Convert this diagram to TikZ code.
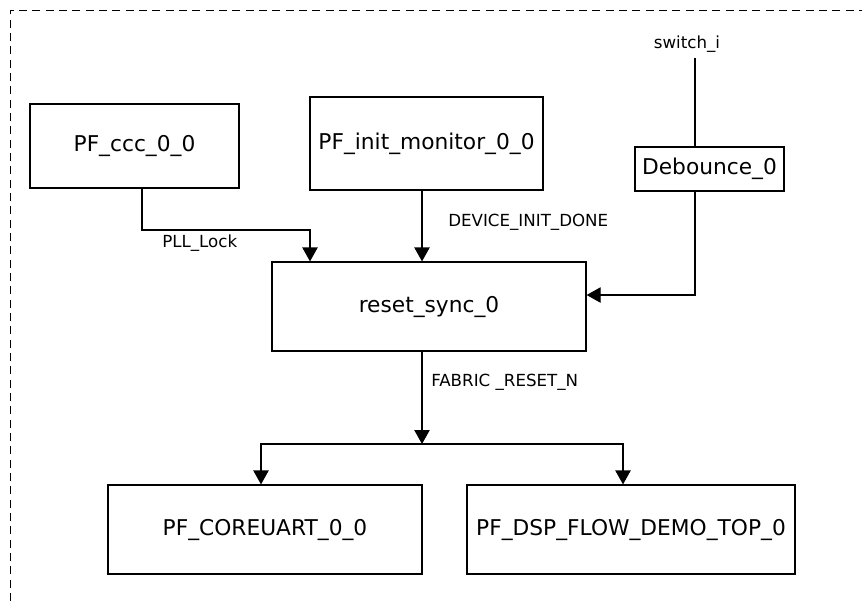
\documentclass[tikz,border=0pt]{standalone}
\usepackage{fontspec}
\setmainfont{DejaVu Sans}
\usetikzlibrary{arrows.meta}

\tikzset{
  block/.style={draw, line width=0.9pt, inner sep=0pt, align=center, font=\fontsize{16.3}{20}\selectfont},
  sig/.style={line width=0.9pt, -{Triangle[width=11.5pt,length=10.5pt]}},
  wire/.style={line width=0.9pt},
  lbl/.style={inner sep=0pt, font=\fontsize{12.5}{15}\selectfont}
}

\begin{document}
\begin{tikzpicture}[x=0.75pt,y=-0.75pt]
\useasboundingbox (0,0) rectangle (862,601);
\draw[dashed, line width=0.7pt, dash pattern=on 6pt off 4pt] (10,601) -- (10,10) -- (862,10);

\node[block, minimum width=209*0.75pt, minimum height=84*0.75pt] (ccc) at (134.5,146) {PF\_ccc\_0\_0};
\node[block, minimum width=233*0.75pt, minimum height=93*0.75pt] (init) at (426.5,143.5) {PF\_init\_monitor\_0\_0};
\node[block, minimum width=149*0.75pt, minimum height=44*0.75pt] (deb) at (709.5,169) {Debounce\_0};
\node[block, minimum width=314*0.75pt, minimum height=89*0.75pt] (reset) at (429,306.5) {reset\_sync\_0};
\node[block, minimum width=314*0.75pt, minimum height=89*0.75pt] (uart) at (265,529.5) {PF\_COREUART\_0\_0};
\node[block, minimum width=328*0.75pt, minimum height=89*0.75pt] (dsp) at (631,529.5) {PF\_DSP\_FLOW\_DEMO\_TOP\_0};

\node[lbl] (sw) at (687,44) {switch\_i};
\node[lbl, anchor=west] (lock) at (162,243) {PLL\_Lock};
\node[lbl, anchor=west] (done) at (448,222) {DEVICE\_INIT\_DONE};
\node[lbl, anchor=west] (frst) at (431,382) {FABRIC \_RESET\_N};

\coordinate (split) at (422,444);

\draw[sig] (ccc.south -| 142,0) |- (310,230) -- (reset.north -| 310,0);
\draw[sig] (init.south -| 422,0) -- (reset.north -| 422,0);
\draw[wire] (695,58) -- (deb.north -| 695,0);
\draw[sig] (deb.south -| 695,0) |- (reset.east |- 0,295);

\draw[sig] (reset.south -| split) -- (split);
\draw[sig] (split) -| (uart.north -| 261,0);
\draw[sig] (split) -| (dsp.north -| 623,0);

\end{tikzpicture}
\end{document}
